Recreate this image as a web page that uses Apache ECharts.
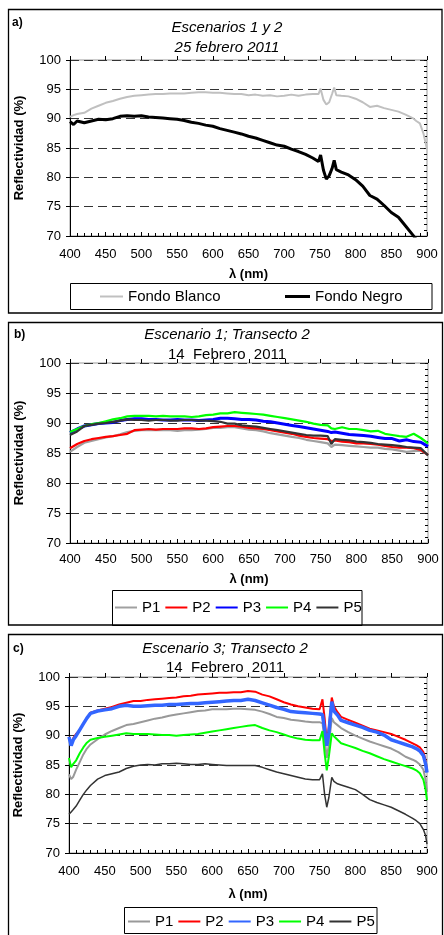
<!DOCTYPE html>
<html>
<head>
<meta charset="utf-8">
<script src="https://cdn.jsdelivr.net/npm/echarts@6/dist/echarts.min.js"></script>
<style>
html,body{margin:0;padding:0;background:#fff;}
#chart{width:444px;height:935px;}
</style>
</head>
<body>
<div id="chart"></div>
<script>
// ---------- Panel a ----------
const wlA = [400,405,410,420,430,440,450,460,470,480,490,500,510,520,530,540,550,560,570,580,590,600,610,620,630,640,650,660,670,680,690,700,710,720,730,740,748,751,755,759,763,767,770,773,780,790,800,810,820,830,840,850,860,870,880,885,890,895,900];
const fondoBlanco = [90.3,90.6,90.8,91.0,91.7,92.2,92.7,93.0,93.4,93.7,93.9,94.0,94.1,94.2,94.2,94.3,94.3,94.3,94.4,94.5,94.5,94.4,94.4,94.3,94.2,94.2,94.0,94.1,93.9,94.0,93.8,93.9,94.1,93.9,94.1,94.2,94.2,95.1,93.2,92.4,92.8,94.2,95.3,94.0,93.9,93.8,93.4,92.8,92.0,92.2,91.8,91.5,91.2,90.7,90.1,89.6,89.2,87.5,84.8];
const fondoNegro = [89.5,89.0,89.6,89.3,89.6,89.9,89.8,90.0,90.4,90.5,90.4,90.5,90.3,90.2,90.1,90.0,89.9,89.7,89.4,89.2,88.9,88.7,88.3,88.0,87.7,87.4,87.0,86.7,86.3,85.9,85.5,85.3,84.8,84.4,83.9,83.3,82.7,83.8,81.2,79.7,80.3,81.5,82.9,81.3,80.9,80.4,79.6,78.5,76.9,76.3,75.2,74.0,73.2,71.7,70.2,69.4,68.6,67.8,67.0];

// ---------- Panel b ----------
const wlB = [400,410,420,430,440,450,460,470,480,490,500,510,520,530,540,550,560,570,580,590,600,610,620,630,640,650,660,670,680,690,700,710,720,730,740,750,760,765,770,780,790,800,810,820,830,840,850,860,870,880,890,900];
const b_P1 = [85.2,86.0,86.7,87.0,87.3,87.6,87.8,88.1,88.5,88.7,88.8,88.8,88.8,88.8,88.8,88.7,88.8,88.8,88.9,89.0,89.2,89.2,89.3,89.3,89.1,88.9,88.8,88.6,88.3,88.1,87.9,87.7,87.5,87.2,87.0,86.8,86.6,86.0,86.4,86.3,86.2,86.1,86.0,85.9,85.9,85.7,85.6,85.4,85.2,85.3,85.4,84.7];
const b_P2 = [85.8,86.5,87.0,87.3,87.5,87.7,87.8,88.0,88.2,88.8,88.9,89.0,88.9,89.0,89.0,89.0,89.1,89.1,89.0,89.1,89.3,89.4,89.5,89.5,89.4,89.2,89.1,89.0,88.8,88.6,88.4,88.2,87.9,87.7,87.5,87.4,87.3,87.0,87.1,86.9,86.8,86.6,86.6,86.5,86.4,86.2,86.0,85.9,85.9,85.8,85.5,84.7];
const b_P3 = [88.4,89.0,89.5,89.7,89.9,90.0,90.1,90.4,90.6,90.7,90.7,90.6,90.6,90.5,90.5,90.6,90.5,90.5,90.4,90.5,90.6,90.8,90.8,90.7,90.6,90.6,90.5,90.3,90.2,90.0,89.8,89.6,89.4,89.2,89.0,88.8,88.6,88.4,88.5,88.3,88.1,88.0,87.9,87.8,87.6,87.4,87.4,87.0,87.2,86.9,86.8,86.1];
const b_P4 = [88.5,89.0,89.5,89.8,90.0,90.3,90.6,90.8,91.1,91.2,91.2,91.2,91.1,91.2,91.1,91.1,91.1,91.0,91.1,91.3,91.4,91.6,91.6,91.8,91.7,91.6,91.5,91.4,91.2,91.0,90.8,90.6,90.4,90.2,89.9,89.7,89.6,89.1,89.0,89.3,89.0,89.0,88.8,88.6,88.7,88.2,88.0,87.8,87.7,88.2,87.5,86.6];
const b_P5 = [88.0,88.6,89.5,89.7,89.9,90.0,90.2,90.4,90.6,90.5,90.5,90.4,90.5,90.5,90.4,90.4,90.5,90.5,90.4,90.4,90.3,90.2,89.9,89.9,89.6,89.5,89.4,89.2,89.0,88.8,88.6,88.4,88.2,88.0,87.9,87.9,87.8,86.5,87.3,87.2,87.1,86.9,86.8,86.7,86.5,86.4,86.3,86.2,86.0,85.9,85.8,84.6];

// ---------- Panel c ----------
const wlC = [400,403,406,410,415,420,425,430,
  440,450,460,470,480,490,500,510,520,530,540,550,560,570,580,590,600,610,620,630,640,650,660,670,680,690,700,710,720,730,740,750,
  754,757,760,763,767,770,775,
  780,790,800,810,820,830,840,850,860,870,880,
  885,890,895,898,900];
const c_P1 = [83.4,82.6,83.0,84.2,85.5,86.8,87.8,88.5,
  89.4,90.2,90.8,91.3,91.8,92.0,92.3,92.6,92.9,93.1,93.4,93.6,93.8,94.0,94.2,94.3,94.5,94.5,94.5,94.6,94.6,94.5,94.4,94.1,93.7,93.2,93.0,92.7,92.6,92.4,92.3,92.3,
  92.1,89.5,86.2,88.5,93.0,92.3,91.8,
  91.3,90.6,90.0,89.5,89.0,88.6,88.2,87.8,87.2,86.4,85.9,
  85.6,85.1,84.2,82.5,80.4];
const c_P2 = [89.8,88.6,89.6,90.3,91.0,92.0,93.0,93.9,
  94.3,94.6,94.9,95.3,95.6,95.9,95.9,96.1,96.2,96.3,96.4,96.5,96.7,96.8,97.0,97.1,97.2,97.3,97.3,97.4,97.4,97.6,97.5,97.0,96.7,96.2,95.7,95.3,95.0,94.8,94.6,94.5,
  96.2,93.0,89.0,91.5,96.5,95.0,94.0,
  93.2,92.7,92.2,91.7,91.2,90.9,90.6,90.3,89.8,89.3,88.7,
  88.4,88.0,87.2,85.8,84.0];
const c_P3 = [89.8,88.3,89.3,90.0,91.0,92.0,93.0,93.8,
  94.2,94.4,94.6,95.0,95.2,95.0,95.0,95.1,95.2,95.2,95.3,95.3,95.4,95.5,95.5,95.6,95.7,95.8,95.9,96.0,96.0,96.2,96.0,95.6,95.2,94.8,94.5,94.1,94.0,93.9,93.8,93.7,
  93.6,91.0,88.3,90.5,95.8,94.2,93.5,
  92.6,92.2,91.8,91.4,90.9,90.6,90.1,89.3,88.9,88.5,88.1,
  87.8,87.4,86.6,85.2,83.7];
const c_P4 = [86.2,84.6,85.2,85.8,87.0,88.0,88.8,89.3,
  89.6,89.8,90.0,90.2,90.4,90.3,90.3,90.3,90.2,90.1,90.1,90.0,90.1,90.2,90.3,90.5,90.7,90.9,91.1,91.3,91.5,91.7,91.8,91.3,90.9,90.6,90.2,89.8,89.5,89.3,89.2,89.2,
  90.8,87.0,84.1,86.5,90.4,89.9,89.3,
  88.7,88.3,87.9,87.4,87.0,86.5,86.0,85.6,85.2,84.8,84.4,
  84.1,83.6,82.5,80.8,79.0];
const c_P5 = [76.6,77.0,77.4,78.0,79.0,80.0,80.8,81.5,
  82.6,83.2,83.5,83.8,84.4,84.8,85.0,85.1,85.0,85.2,85.2,85.3,85.2,85.1,85.1,85.2,85.1,85.0,84.9,84.9,84.9,84.9,84.9,84.6,84.2,83.8,83.5,83.2,82.9,82.6,82.5,82.5,
  83.5,80.0,77.8,79.5,82.9,82.2,81.8,
  81.6,81.2,80.8,80.0,79.1,78.6,78.2,77.8,77.2,76.6,75.9,
  75.5,75.0,74.0,73.0,71.5];

// ---------- Axis ranges and texts ----------
const xRange = {min: 400, max: 900, interval: 50};
const yRange = {min: 70, max: 100, interval: 5};
const panelLabels = ['a)', 'b)', 'c)'];
const titlesLine1 = ['Escenarios 1 y 2', 'Escenario 1; Transecto 2', 'Escenario 3; Transecto 2'];
const titlesLine2 = ['25 febrero 2011', '14  Febrero  2011', '14  Febrero  2011'];
const yAxisName = 'Reflectividad (%)';
const xAxisName = '\u03bb (nm)';

const FONT = '"Liberation Sans", Arial, sans-serif';

const grids = [
  {left: 70, top: 60, width: 357, height: 176},
  {left: 70, top: 363, width: 358, height: 180},
  {left: 69, top: 677, width: 358, height: 176}
];
const xLabelMargin = [12, 10, 12];
const xNameGap = [32, 30, 35];

function pairs(wl, vals) { return wl.map((w, i) => [w, vals[i]]); }

const xAxes = [], yAxes = [];
grids.forEach((g, i) => {
  xAxes.push({
    type: 'value', gridIndex: i, min: xRange.min, max: xRange.max, interval: xRange.interval,
    axisLine: {show: true, onZero: false, lineStyle: {color: '#000', width: 1}},
    axisTick: {show: true, inside: true, length: 4, lineStyle: {color: '#000'}},
    minorTick: {show: true, splitNumber: 5, length: 3, lineStyle: {color: '#000'}},
    splitLine: {show: false},
    axisLabel: {color: '#000', fontSize: 13, fontFamily: FONT, margin: xLabelMargin[i]},
    name: xAxisName, nameLocation: 'middle', nameGap: xNameGap[i],
    nameTextStyle: {color: '#000', fontSize: 13, fontWeight: 'bold', fontFamily: FONT}
  });
  yAxes.push({
    type: 'value', gridIndex: i, min: yRange.min, max: yRange.max, interval: yRange.interval,
    axisLine: {show: true, onZero: false, lineStyle: {color: '#000', width: 1}},
    axisTick: {show: true, inside: false, length: 4, lineStyle: {color: '#000'}},
    minorTick: {show: false},
    splitLine: {show: true, lineStyle: {color: '#333', width: 1, type: [9, 5]}},
    axisLabel: {color: '#000', fontSize: 13, fontFamily: FONT, margin: 9},
    name: yAxisName, nameLocation: 'middle', nameGap: 44,
    nameTextStyle: {color: '#000', fontSize: 13, fontWeight: 'bold', fontFamily: FONT}
  });
});
// secondary axes: outside major ticks on x, inside minor ticks on y
grids.forEach((g, i) => {
  xAxes.push({
    type: 'value', gridIndex: i, min: xRange.min, max: xRange.max, interval: xRange.interval,
    axisLine: {show: false}, axisTick: {show: true, inside: false, length: 4, lineStyle: {color: '#000'}},
    axisLabel: {show: false}, splitLine: {show: false}
  });
  yAxes.push({
    type: 'value', gridIndex: i, min: yRange.min, max: yRange.max, interval: yRange.interval,
    axisLine: {show: false}, axisTick: {show: true, inside: true, length: 3, lineStyle: {color: '#000'}},
    minorTick: {show: true, splitNumber: 5, length: 3, lineStyle: {color: '#000'}},
    axisLabel: {show: false}, splitLine: {show: false}
  });
});

function line(name, gi, wl, vals, color, width, z) {
  return {
    name: name, type: 'line', xAxisIndex: gi, yAxisIndex: gi,
    data: pairs(wl, vals), showSymbol: false, symbol: 'none',
    color: color, lineStyle: {color: color, width: width}, z: z || 2,
    animation: false, clip: true
  };
}

const series = [
  line('Fondo Blanco', 0, wlA, fondoBlanco, '#c0c0c0', 2),
  line('Fondo Negro', 0, wlA, fondoNegro, '#000000', 3),
  line('P1', 1, wlB, b_P1, '#a0a0a0', 2.2),
  line('P2', 1, wlB, b_P2, '#ff0000', 2.2),
  line('P3', 1, wlB, b_P3, '#0000ff', 3),
  line('P4', 1, wlB, b_P4, '#00ff00', 2.2),
  line('P5', 1, wlB, b_P5, '#333333', 2.2),
  line('P1', 2, wlC, c_P1, '#999999', 2),
  line('P2', 2, wlC, c_P2, '#ff0000', 2),
  line('P3', 2, wlC, c_P3, '#3366ff', 3.5),
  line('P4', 2, wlC, c_P4, '#00ff00', 2),
  line('P5', 2, wlC, c_P5, '#333333', 1.5)
];

const legTS = {color: '#000', fontSize: 15, fontFamily: FONT};
const legends = [
  {data: [{name: 'Fondo Blanco', itemStyle: {color: '#c0c0c0'}}], left: 100, top: 289, padding: 0, icon: 'rect', itemWidth: 23, itemHeight: 2, textStyle: legTS, selectedMode: false},
  {data: [{name: 'Fondo Negro', itemStyle: {color: '#000'}}], left: 285, top: 289, padding: 0, icon: 'rect', itemWidth: 25, itemHeight: 3, textStyle: legTS, selectedMode: false},
  {data: [
    {name: 'P1', itemStyle: {color: '#a0a0a0'}}, {name: 'P2', itemStyle: {color: '#ff0000'}},
    {name: 'P3', itemStyle: {color: '#0000ff'}}, {name: 'P4', itemStyle: {color: '#00ff00'}},
    {name: 'P5', itemStyle: {color: '#333333'}}],
   left: 115, top: 600, padding: 0, icon: 'rect', itemWidth: 22, itemHeight: 2, itemGap: 5, textStyle: legTS, selectedMode: false},
  {data: [
    {name: 'P1', itemStyle: {color: '#999999'}}, {name: 'P2', itemStyle: {color: '#ff0000'}},
    {name: 'P3', itemStyle: {color: '#3366ff'}}, {name: 'P4', itemStyle: {color: '#00ff00'}},
    {name: 'P5', itemStyle: {color: '#333333'}}],
   left: 128, top: 914, padding: 0, icon: 'rect', itemWidth: 22, itemHeight: 2, itemGap: 5, textStyle: legTS, selectedMode: false}
];

const panelRects = [[8.5, 9.5, 433.5, 303.5], [8.5, 322.5, 434, 302.5], [8.5, 634.5, 434, 310]];
const legendRects = [[70.5, 283.5, 361.5, 26], [112.5, 590.5, 249.5, 35], [124.5, 907.5, 252.5, 26]];
const labelPos = [[12, 22.5], [14, 335], [13, 649]];
const titlePos = [[227, 28, 48], [227, 335, 355], [225, 649, 668]];

const graphic = [];
panelRects.forEach(r => graphic.push({type: 'rect', shape: {x: r[0], y: r[1], width: r[2], height: r[3]}, style: {fill: 'none', stroke: '#000', lineWidth: 1.3}, silent: true}));
legendRects.forEach(r => graphic.push({type: 'rect', shape: {x: r[0], y: r[1], width: r[2], height: r[3]}, style: {fill: 'none', stroke: '#000', lineWidth: 1}, silent: true}));
panelLabels.forEach((t, i) => graphic.push({type: 'text', x: labelPos[i][0], y: labelPos[i][1], style: {text: t, font: 'bold 12px ' + FONT, fill: '#000', textVerticalAlign: 'middle', verticalAlign: 'middle'}, silent: true}));
titlesLine1.forEach((t, i) => graphic.push({type: 'text', x: titlePos[i][0], y: titlePos[i][1], style: {text: t, font: 'italic 15px ' + FONT, fill: '#000', align: 'center', verticalAlign: 'middle', textAlign: 'center', textVerticalAlign: 'middle'}, silent: true}));
titlesLine2.forEach((t, i) => graphic.push({type: 'text', x: titlePos[i][0], y: titlePos[i][2], style: {text: t, font: (i === 0 ? 'italic ' : '') + '15px ' + FONT, fill: '#000', align: 'center', verticalAlign: 'middle', textAlign: 'center', textVerticalAlign: 'middle'}, silent: true}));

const chart = echarts.init(document.getElementById('chart'), null, {renderer: 'canvas'});
chart.setOption({
  animation: false,
  backgroundColor: '#fff',
  grid: grids.map(g => Object.assign({show: true, borderColor: '#999', borderWidth: 1, backgroundColor: 'transparent'}, g)),
  xAxis: xAxes,
  yAxis: yAxes,
  legend: legends,
  series: series,
  graphic: graphic
});
</script>
</body>
</html>
